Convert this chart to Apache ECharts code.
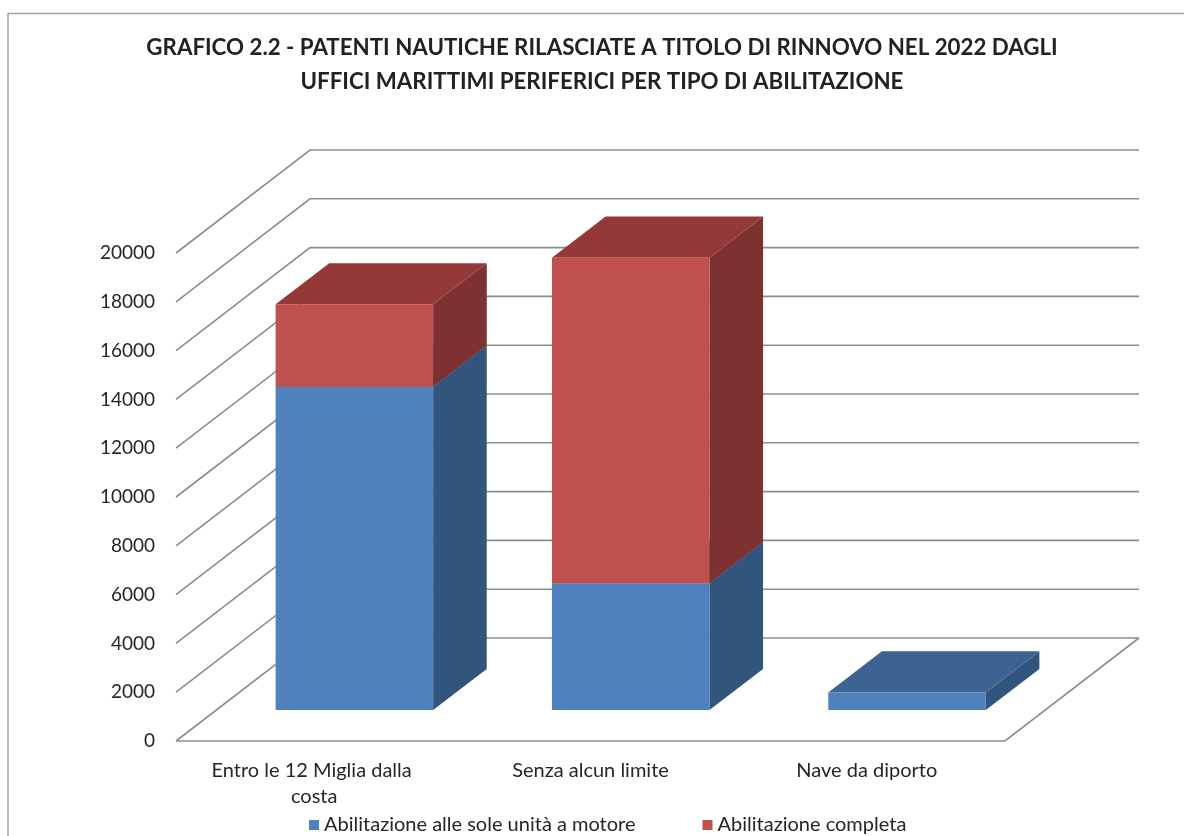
<!DOCTYPE html>
<html><head><meta charset="utf-8">
<script src="https://cdn.jsdelivr.net/npm/echarts@6/dist/echarts.min.js"></script>
<style>html,body{margin:0;padding:0;background:#fff}#c{width:1184px;height:836px}</style>
</head><body><div id="c"></div>
<script>
// ---- data ----
const categories = ['Entro le 12 Miglia dalla costa', 'Senza alcun limite', 'Nave da diporto'];
const seriesNames = ['Abilitazione alle sole unità a motore', 'Abilitazione completa'];
const motore = [13250, 5200, 720];
const completa = [3380, 13340, 0];
const yTicks = [0, 2000, 4000, 6000, 8000, 10000, 12000, 14000, 16000, 18000, 20000];
const titleLines = ['GRAFICO 2.2 - PATENTI NAUTICHE RILASCIATE A TITOLO DI RINNOVO NEL 2022 DAGLI',
                    'UFFICI MARITTIMI PERIFERICI PER TIPO DI ABILITAZIONE'];

// ---- 3D look ----
const DX = 134, DY = -103;       // depth of the box, px
const FRONT = 0.30, BACK = 0.70; // bar depth fractions
const BAR_W = 0.57;
const FONT = 'Lato';
const blueCols = {front: '#4F81BD', side: '#32557E', top: '#3C6391'};
const redCols = {front: '#C0504D', side: '#7D3130', top: '#933A39'};

function stackData(values, bases) { return values.map((v, i) => [i, bases[i], bases[i] + v]); }
const zeros = categories.map(() => 0);

function makeBarRender(c) {
  return function (params, api) {
    const i = api.value(0), b = api.value(1), t = api.value(2);
    if (!(t - b > 0)) return;
    const pb = api.coord([i, b]), pt = api.coord([i, t]);
    const w = api.size([1, 0])[0] * BAR_W;
    const fx = DX * FRONT, fy = DY * FRONT;
    const bx = DX * (BACK - FRONT), by = DY * (BACK - FRONT);
    const x0 = pb[0] - w / 2 + fx, x1 = x0 + w;
    const y0 = pb[1] + fy, y1 = pt[1] + fy;
    return {type: 'group', children: [
      {type: 'polygon', shape: {points: [[x1, y0], [x1 + bx, y0 + by], [x1 + bx, y1 + by], [x1, y1]]}, style: {fill: c.side}},
      {type: 'polygon', shape: {points: [[x0, y1], [x1, y1], [x1 + bx, y1 + by], [x0 + bx, y1 + by]]}, style: {fill: c.top}},
      {type: 'rect', shape: {x: x0, y: y1, width: w, height: y0 - y1}, style: {fill: c.front}}
    ]};
  };
}

function gridRender(params, api) {
  const v = api.value(1);
  const y = api.coord([0, v])[1];
  const cs = params.coordSys;
  const L = cs.x, R = cs.x + cs.width;
  const style = {stroke: '#8d8d8d', lineWidth: 1.6, fill: null};
  const children = [
    {type: 'polyline', shape: {points: [[L, y], [L + DX, y + DY], [R + DX, y + DY]]}, style: style}
  ];
  if (v === 0) children.push({type: 'polyline', shape: {points: [[L, y], [R, y], [R + DX, y + DY]]}, style: style});
  return {type: 'group', children: children};
}

const chart = echarts.init(document.getElementById('c'));
chart.setOption({
  animation: false,
  backgroundColor: '#fff',
  title: {
    text: titleLines.join('\n'),
    left: 597, top: 25.5, textAlign: 'center',
    textStyle: {fontFamily: FONT, fontWeight: 'bold', fontSize: 22.3, lineHeight: 34, color: '#222'}
  },
  graphic: [{type: 'rect', shape: {x: 8, y: 13.5, width: 1185, height: 840}, style: {fill: null, stroke: '#a3a3a3', lineWidth: 1.5}, silent: true}],
  legend: {
    data: seriesNames, left: 304, top: 810, icon: 'rect', itemWidth: 10, itemHeight: 10, itemGap: 67,
    textStyle: {fontFamily: FONT, fontSize: 20, color: '#262626'}
  },
  grid: {left: 176, right: 179, top: 253, bottom: 95},
  xAxis: {
    type: 'category', data: categories,
    axisLine: {show: false}, axisTick: {show: false}, splitLine: {show: false},
    axisLabel: {interval: 0, fontFamily: FONT, fontSize: 20, color: '#262626', margin: 17, lineHeight: 26, width: 240, overflow: 'break'}
  },
  yAxis: {
    type: 'value', min: 0, max: 20000, interval: 2000,
    axisLine: {show: false}, axisTick: {show: false}, splitLine: {show: false},
    axisLabel: {fontFamily: FONT, fontSize: 19, color: '#262626', margin: 21, formatter: v => String(v)}
  },
  series: [
    {type: 'custom', name: 'grid', silent: true, z: 1, renderItem: gridRender,
     data: yTicks.map(v => [0, v]), encode: {x: 0, y: 1}},
    {type: 'custom', name: seriesNames[0], z: 2, itemStyle: {color: blueCols.front},
     renderItem: makeBarRender(blueCols), data: stackData(motore, zeros), encode: {x: 0, y: [1, 2]}},
    {type: 'custom', name: seriesNames[1], z: 3, itemStyle: {color: redCols.front},
     renderItem: makeBarRender(redCols), data: stackData(completa, motore), encode: {x: 0, y: [1, 2]}}
  ]
});
</script></body></html>
